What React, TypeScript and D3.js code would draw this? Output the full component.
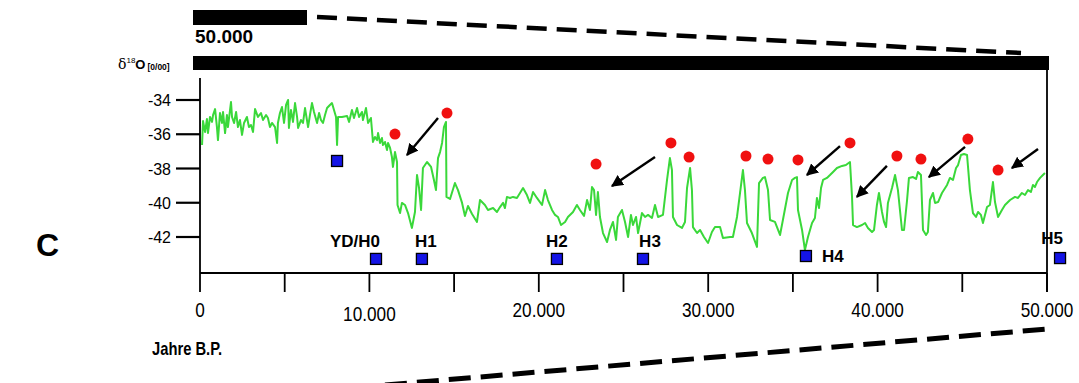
import React from "react";
import * as d3 from "d3";

// ---- data (age in kyr B.P., δ18O in per mil) ----
const ages = [0.12,0.18,0.30,0.41,0.47,0.59,0.71,0.77,0.89,1.00,1.06,1.18,1.30,1.36,1.48,1.59,1.65,1.83,1.89,2.01,2.13,2.24,2.36,2.48,2.60,2.77,2.89,3.01,3.13,3.25,3.42,3.60,3.72,3.90,4.01,4.13,4.25,4.43,4.55,4.60,4.72,4.84,4.96,5.08,5.20,5.25,5.37,5.49,5.61,5.73,5.79,5.96,6.08,6.20,6.38,6.49,6.61,6.73,6.91,7.03,7.14,7.26,7.38,7.50,7.67,7.79,8.03,8.09,8.15,8.38,8.68,8.80,8.97,9.09,9.27,9.39,9.56,9.62,9.80,9.92,10.09,10.21,10.33,10.45,10.51,10.63,10.74,10.80,10.92,11.04,11.10,11.22,11.33,11.39,11.51,11.63,11.66,11.81,11.92,12.10,12.28,12.51,12.69,12.81,12.93,13.05,13.16,13.40,13.64,13.81,13.93,14.05,14.17,14.29,14.40,14.52,14.55,14.76,15.05,15.23,15.47,15.64,15.82,16.06,16.35,16.53,16.82,17.00,17.30,17.53,17.71,17.89,18.00,18.12,18.30,18.48,18.71,18.89,19.07,19.30,19.48,19.66,19.89,20.19,20.37,20.54,20.78,20.96,21.13,21.31,21.55,21.72,22.02,22.25,22.43,22.67,22.85,23.02,23.14,23.26,23.38,23.49,23.61,23.79,24.03,24.20,24.38,24.56,24.67,24.91,25.09,25.27,25.44,25.56,25.74,25.86,26.09,26.27,26.45,26.68,26.86,27.04,27.33,27.57,27.74,27.86,27.92,28.16,28.45,28.63,28.75,28.93,29.04,29.10,29.34,29.52,29.75,29.99,30.22,30.40,30.70,30.87,31.29,31.46,31.70,31.88,32.05,32.17,32.29,32.58,32.88,33.00,33.23,33.35,33.53,33.65,33.94,34.24,34.41,34.71,34.95,35.12,35.24,35.30,35.54,35.71,35.89,36.13,36.30,36.42,36.54,36.66,36.78,37.01,37.19,37.37,37.60,37.90,38.13,38.37,38.49,38.55,38.78,39.08,39.26,39.43,39.67,39.79,39.96,40.08,40.26,40.38,40.50,40.61,40.85,41.03,41.20,41.44,41.56,41.74,41.85,42.09,42.27,42.38,42.56,42.68,42.86,42.97,43.09,43.27,43.39,43.57,43.80,44.10,44.27,44.45,44.63,44.75,44.92,45.10,45.28,45.45,45.63,45.81,45.93,46.10,46.22,46.46,46.63,46.81,46.93,47.11,47.34,47.52,47.82,48.11,48.29,48.52,48.70,48.88,49.05,49.17,49.29,49.41,49.59,49.76,49.88];
const d18O = [-36.63,-35.23,-35.87,-35.11,-35.93,-34.99,-35.28,-34.88,-34.53,-35.58,-36.34,-34.76,-35.34,-34.70,-35.93,-34.88,-35.58,-34.12,-34.99,-35.34,-34.70,-35.58,-35.17,-36.04,-35.34,-34.99,-35.58,-35.46,-35.87,-34.53,-34.99,-34.76,-35.17,-34.88,-35.05,-35.58,-35.34,-35.58,-36.51,-35.34,-34.76,-34.41,-35.34,-34.29,-34.00,-35.63,-34.58,-35.28,-34.18,-34.99,-35.63,-35.17,-35.34,-34.47,-35.58,-34.88,-34.18,-34.70,-35.34,-34.76,-35.17,-35.34,-34.88,-34.47,-34.29,-34.18,-34.99,-36.63,-34.99,-34.99,-34.93,-35.28,-34.58,-35.05,-34.47,-34.99,-34.70,-35.17,-34.47,-35.34,-35.05,-36.45,-36.16,-36.34,-35.93,-36.51,-36.22,-36.63,-36.45,-36.92,-36.51,-36.80,-37.33,-37.91,-37.04,-37.62,-40.13,-40.60,-40.01,-40.13,-40.60,-41.47,-40.54,-38.38,-39.14,-40.42,-37.97,-37.62,-37.91,-38.67,-39.26,-37.39,-37.04,-36.51,-35.58,-35.28,-39.66,-39.78,-38.85,-39.26,-40.01,-40.77,-40.19,-40.66,-41.12,-39.84,-40.13,-40.42,-40.31,-40.54,-40.25,-40.01,-40.31,-39.66,-39.72,-39.66,-39.72,-39.43,-39.14,-39.55,-40.01,-39.37,-39.72,-40.13,-39.26,-39.84,-40.42,-40.71,-40.83,-41.30,-41.12,-40.83,-40.54,-40.13,-40.42,-40.77,-39.84,-40.42,-39.08,-39.26,-40.71,-39.37,-40.83,-41.77,-42.29,-41.59,-41.12,-42.17,-40.83,-40.42,-41.12,-42.00,-40.71,-41.30,-40.83,-41.77,-40.60,-40.83,-40.71,-40.89,-40.13,-40.83,-40.71,-38.67,-37.39,-38.09,-40.83,-41.30,-41.47,-41.12,-39.14,-37.97,-39.26,-41.42,-41.77,-41.59,-42.00,-42.35,-41.71,-41.42,-41.42,-42.06,-42.00,-42.00,-40.83,-39.43,-38.09,-39.26,-41.18,-41.77,-42.58,-38.85,-38.55,-38.50,-39.26,-41.01,-41.12,-41.88,-41.01,-39.43,-38.67,-38.55,-38.50,-40.42,-41.59,-42.76,-42.00,-41.18,-40.89,-39.72,-40.31,-39.14,-38.67,-38.55,-38.38,-38.20,-37.97,-37.85,-37.80,-37.62,-39.66,-41.30,-41.42,-41.30,-41.18,-41.47,-41.71,-41.59,-40.13,-39.43,-40.54,-41.12,-41.42,-40.01,-39.14,-38.38,-39.26,-41.59,-41.59,-39.84,-38.55,-38.50,-38.61,-38.20,-38.38,-41.59,-41.88,-41.71,-39.84,-39.43,-40.01,-39.96,-39.43,-38.96,-38.55,-38.67,-37.97,-37.80,-37.21,-37.15,-37.21,-39.26,-40.60,-40.83,-40.54,-40.71,-41.18,-40.25,-40.13,-38.79,-39.96,-40.83,-40.42,-40.13,-39.84,-39.66,-39.72,-39.43,-39.55,-39.26,-39.37,-38.96,-39.08,-38.79,-38.55,-38.38,-38.26];

// red dots (warm events)
const dotAges = [11.51,14.58,23.38,27.80,28.87,32.23,33.53,35.30,38.37,41.14,42.56,45.33,47.11];
const dotValues = [-35.99,-34.76,-37.74,-36.51,-37.33,-37.27,-37.45,-37.50,-36.51,-37.27,-37.45,-36.28,-38.09];

// arrows: start (age, value) -> tip (age, value)
const arrowFromAges = [14.05,26.86,37.78,40.55,45.16,49.47];
const arrowFromValues = [-35.05,-37.33,-36.69,-37.85,-36.74,-36.86];
const arrowToAges = [12.22,24.32,35.83,38.78,43.03,47.93];
const arrowToValues = [-37.21,-39.02,-38.38,-39.66,-38.50,-37.97];

// Heinrich events (blue squares)
const eventNames = ["", "YD/H0", "H1", "H2", "H3", "H4", "H5"];
const eventAges = [8.09, 10.39, 13.10, 21.07, 26.15, 35.77, 50.77];
const eventValues = [-37.56, -43.28, -43.28, -43.28, -43.28, -43.11, -43.23];
const eventLabelDx = [0, -21, 4, 0, 7, 16, -8];
const eventLabelDy = [0, -12, -12, -12, -12, 0, -14];

const yTicks = [-34, -36, -38, -40, -42];
const yTickLabels = ["-34", "-36", "-38", "-40", "-42"];
const xTicks = [0, 5, 10, 15, 20, 25, 30, 35, 40, 45, 50];
const xLabelTicks = [0, 10, 20, 30, 40, 50];
const xTickLabels = ["0", "10.000", "20.000", "30.000", "40.000", "50.000"];

const W = 1079;
const H = 383;
const SANS = "'Liberation Sans', Arial, Helvetica, sans-serif";
const GREEN = "#3ad83a";

export default function App() {
  const x = d3.scaleLinear().domain([0, 50]).range([200, 1047]);
  const y = d3.scaleLinear().domain([-34, -42]).range([100, 237]);
  const axisY = 273;

  const series = ages.map((a, i) => [a, d18O[i]] as [number, number]);
  const line = d3
    .line<[number, number]>()
    .x((d) => x(d[0]))
    .y((d) => y(d[1]));

  return (
    <div style={{ position: "absolute", left: 0, top: 0 }}>
      <svg width={W} height={H} style={{ display: "block", background: "#fff" }}>
        <defs>
          <marker id="ah" viewBox="0 0 10 10" refX="9" refY="5" markerWidth="5" markerHeight="5" orient="auto" markerUnits="strokeWidth">
            <path d="M0,0 L10,5 L0,10 z" fill="#000" />
          </marker>
        </defs>

        {/* top scale bars */}
        <rect x={193} y={10} width={114} height={15} fill="#000" />
        <text x={195} y={43} fontFamily={SANS} fontWeight="bold" fontSize={19}>50.000</text>
        <line x1={317} y1={17} x2={1021} y2={53} stroke="#000" strokeWidth={4.5} strokeDasharray="20 10" />
        <rect x={193} y={56} width={856} height={14} fill="#000" />

        {/* δ18O label */}
        <text x={118} y={69} fontFamily={SANS}>
          <tspan fontFamily="'DejaVu Serif', 'Liberation Serif', serif" fontSize={14}>δ</tspan>
          <tspan fontSize={8} dy={-6}>18</tspan>
          <tspan fontSize={13} fontWeight="bold" dy={6}>O</tspan>
          <tspan fontSize={8.5} fontWeight="bold" dx={2} dy={1}>[0/00]</tspan>
        </text>

        {/* panel letter */}
        <text x={36} y={256} fontFamily={SANS} fontWeight="bold" fontSize={32}>C</text>

        {/* y axis */}
        <line x1={200} y1={78} x2={200} y2={axisY} stroke="#000" strokeWidth={1.8} />
        {yTicks.map((t, i) => (
          <g key={t}>
            <line x1={176} x2={200} y1={y(t)} y2={y(t)} stroke="#000" strokeWidth={2.2} />
            <text x={171} y={y(t) + 6} textAnchor="end" fontFamily={SANS} fontSize={16}>{yTickLabels[i]}</text>
          </g>
        ))}

        {/* x axis */}
        <line x1={200} y1={axisY} x2={1047} y2={axisY} stroke="#000" strokeWidth={1.8} />
        {xTicks.map((t) => (
          <line key={t} x1={x(t)} x2={x(t)} y1={axisY} y2={axisY + 19} stroke="#000" strokeWidth={1.8} />
        ))}
        {xLabelTicks.map((t, i) => (
          <g key={t} transform={`translate(${x(t)},${i === 1 ? 321 : 317}) scale(0.86,1)`}>
            <text x={0} y={0} textAnchor="middle" fontFamily={SANS} fontSize={20}>{xTickLabels[i]}</text>
          </g>
        ))}

        {/* right frame line */}
        <line x1={1047} y1={70} x2={1047} y2={axisY + 19} stroke="#000" strokeWidth={1.8} />

        {/* bottom dashed line + axis title */}
        <line x1={385} y1={385} x2={1047} y2={329} stroke="#000" strokeWidth={5} strokeDasharray="22 10" />
        <g transform="translate(152,355) scale(0.82,1)">
          <text x={0} y={0} fontFamily={SANS} fontWeight="bold" fontSize={18}>Jahre B.P.</text>
        </g>

        {/* data line */}
        <path d={line(series) || ""} fill="none" stroke={GREEN} strokeWidth={2} strokeLinejoin="round" />

        {/* red dots */}
        {dotAges.map((a, i) => (
          <circle key={i} cx={x(a)} cy={y(dotValues[i])} r={5.5} fill="#f01010" />
        ))}

        {/* arrows */}
        {arrowFromAges.map((a, i) => (
          <line key={i} x1={x(a)} y1={y(arrowFromValues[i])} x2={x(arrowToAges[i])} y2={y(arrowToValues[i])} stroke="#000" strokeWidth={2.4} markerEnd="url(#ah)" />
        ))}

        {/* Heinrich events */}
        {eventAges.map((a, i) => (
          <g key={i}>
            <rect x={x(a) - 5.5} y={y(eventValues[i]) - 5.5} width={11} height={11} fill="#1414e6" stroke="#000" strokeWidth={1.3} />
            {eventNames[i] && (
              <text
                x={x(a) + eventLabelDx[i]}
                y={y(eventValues[i]) + eventLabelDy[i]}
                textAnchor={i === 5 ? "start" : "middle"}
                dy={i === 5 ? 6 : 0}
                fontFamily={SANS}
                fontWeight="bold"
                fontSize={17}
              >
                {eventNames[i]}
              </text>
            )}
          </g>
        ))}
      </svg>
    </div>
  );
}
